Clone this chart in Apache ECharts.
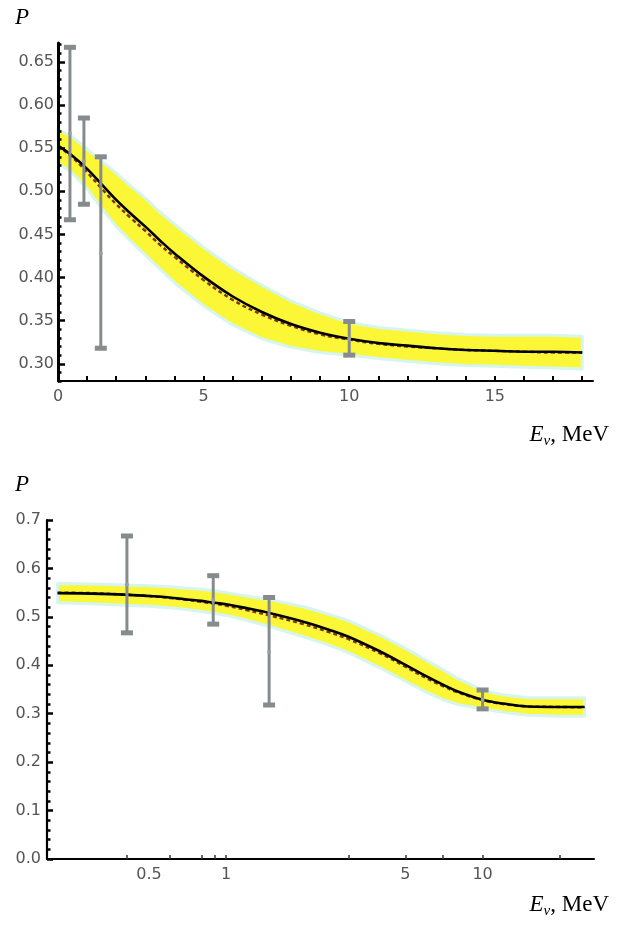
<!DOCTYPE html>
<html><head><meta charset="utf-8">
<script src="https://cdn.jsdelivr.net/npm/echarts@6/dist/echarts.min.js"></script>
<style>html,body{margin:0;padding:0;background:#fff}#c{width:617px;height:928px}</style>
</head><body><div id="c"></div>
<script>
// ---------- top panel (linear energy axis) ----------
const topE  = [0, 0.5, 1, 1.5, 2, 2.5, 3, 3.5, 4, 5, 6, 7, 8, 9, 10, 11, 12, 13, 14, 15, 16, 17, 18];
const topP  = [0.553,0.541,0.526,0.508,0.490,0.474,0.459,0.443,0.428,0.401,0.378,0.360,0.346,0.336,0.329,0.324,0.321,0.318,0.316,0.315,0.314,0.314,0.313];
const topPd = [0.553,0.539,0.522,0.503,0.485,0.469,0.454,0.438,0.424,0.397,0.374,0.357,0.344,0.334,0.328,0.323,0.320,0.318,0.316,0.315,0.314,0.313,0.313];
const topU  = [0.572,0.563,0.549,0.535,0.521,0.506,0.492,0.476,0.462,0.435,0.411,0.391,0.373,0.359,0.348,0.342,0.339,0.336,0.334,0.333,0.333,0.333,0.332];
const topL  = [0.533,0.521,0.503,0.480,0.459,0.442,0.426,0.410,0.394,0.367,0.345,0.329,0.319,0.313,0.310,0.306,0.303,0.300,0.298,0.297,0.296,0.295,0.294];
const topXLabels = [0, 5, 10, 15];
const topXTicks  = [0,1,2,3,4,5,6,7,8,9,10,11,12,13,14,15,16,17,18];
const topYLabels = [0.30, 0.35, 0.40, 0.45, 0.50, 0.55, 0.60, 0.65];

// ---------- bottom panel (log energy axis) ----------
const botE  = [0.22,0.3,0.4,0.5,0.6,0.7,0.8,0.9,1,1.2,1.5,2,2.5,3,4,5,6,7,8,10,12,15,20,25];
const botP  = [0.549,0.548,0.546,0.543,0.540,0.536,0.533,0.529,0.526,0.518,0.507,0.490,0.474,0.459,0.428,0.401,0.378,0.360,0.346,0.329,0.321,0.315,0.314,0.314];
const botPd = [0.550,0.549,0.546,0.543,0.539,0.535,0.531,0.527,0.523,0.514,0.502,0.485,0.469,0.454,0.424,0.397,0.374,0.357,0.344,0.328,0.320,0.315,0.314,0.313];
const botU  = [0.569,0.568,0.566,0.564,0.562,0.559,0.557,0.554,0.550,0.543,0.535,0.521,0.506,0.492,0.462,0.435,0.411,0.391,0.373,0.348,0.339,0.333,0.333,0.333];
const botL  = [0.529,0.527,0.524,0.522,0.519,0.515,0.511,0.507,0.503,0.493,0.479,0.459,0.442,0.426,0.394,0.367,0.345,0.329,0.319,0.310,0.303,0.297,0.295,0.295];
const botXLabels = [0.5, 1, 5, 10];
const botXTicks  = [0.41, 0.6, 0.8, 0.9, 1, 3, 5, 7, 10, 20];

// ---------- measurements (error bars), shared ----------
const barE  = [0.41, 0.89, 1.47, 10];
const barP  = [0.567, 0.535, 0.428, 0.329];
const barLo = [0.467, 0.485, 0.318, 0.310];
const barHi = [0.667, 0.585, 0.540, 0.349];

// minor ticks of top y axis (every 0.01)
const topYMinor = [];
for (let k = 28; k <= 67; k++) topYMinor.push(k / 100);

const TICKFONT = '"DejaVu Sans", Arial, sans-serif';
const LABEL = {color:'#555', fontSize:16, fontFamily:TICKFONT};

function band(xi, yi, E, U, L) {
  return {
    type:'custom', xAxisIndex:xi, yAxisIndex:yi, z:1, silent:true,
    data:[[E[0], U[0]]],
    renderItem:(params, api) => {
      const pts = [];
      for (let i = 0; i < E.length; i++) pts.push(api.coord([E[i], U[i]]));
      for (let i = E.length - 1; i >= 0; i--) pts.push(api.coord([E[i], L[i]]));
      return {type:'polygon', shape:{points:pts},
        style:{fill:'#fbf736', stroke:'#d6f5ef', lineWidth:3, lineJoin:'round'}};
    }
  };
}
function line(xi, yi, E, P, dashed) {
  return {
    type:'line', xAxisIndex:xi, yAxisIndex:yi, smooth:0.4, showSymbol:false, silent:true,
    z: dashed ? 2 : 3,
    data: E.map((e, i) => [e, P[i]]),
    lineStyle: dashed ? {color:'#7e3514', width:2.4, type:[4,3]} : {color:'#000', width:2.6}
  };
}
function bars(xi, yi) {
  return {
    type:'custom', xAxisIndex:xi, yAxisIndex:yi, z:5, silent:true,
    data: barE.map((e, i) => [e, barLo[i], barHi[i], barP[i]]),
    encode:{x:0, y:[1,2]},
    renderItem:(params, api) => {
      const x = api.value(0);
      const lo = api.coord([x, api.value(1)]);
      const hi = api.coord([x, api.value(2)]);
      const c  = api.coord([x, api.value(3)]);
      const col = '#868b8d';
      return {type:'group', children:[
        {type:'line', shape:{x1:lo[0], y1:lo[1], x2:hi[0], y2:hi[1]}, style:{stroke:col, lineWidth:3}},
        {type:'rect', shape:{x:hi[0]-6, y:hi[1]-2.5, width:12, height:5}, style:{fill:col}},
        {type:'rect', shape:{x:lo[0]-6, y:lo[1]-2.5, width:12, height:5}, style:{fill:col}},
        {type:'circle', shape:{cx:c[0], cy:c[1], r:2}, style:{fill:'#9aa0a2'}}
      ]};
    }
  };
}

const rich = {
  i:{fontFamily:'"Liberation Serif", serif', fontStyle:'italic', fontSize:23, lineHeight:28, fill:'#000'},
  s:{fontFamily:'"Liberation Serif", serif', fontStyle:'italic', fontSize:15, lineHeight:15, verticalAlign:'bottom', fill:'#000'},
  r:{fontFamily:'"Liberation Serif", serif', fontSize:23, lineHeight:28, fill:'#000'}
};

const chart = echarts.init(document.getElementById('c'), null, {renderer:'canvas'});
chart.setOption({
  backgroundColor:'#fff',
  animation:false,
  grid:[
    {left:58, right:24, top:43, bottom:547, containLabel:false, outerBoundsMode:'none'},
    {left:47, right:23, top:520, bottom:69, containLabel:false, outerBoundsMode:'none'}
  ],
  xAxis:[
    {type:'value', gridIndex:0, min:0, max:18.37, z:10,
     axisLine:{onZero:false, lineStyle:{color:'#000', width:2}},
     axisTick:{inside:true, length:5, customValues:topXTicks, lineStyle:{color:'#000', width:2}},
     axisLabel:Object.assign({customValues:topXLabels, margin:8}, LABEL),
     splitLine:{show:false}},
    {type:'log', gridIndex:1, min:0.2, max:27.2, logBase:10, z:10,
     axisLine:{onZero:false, lineStyle:{color:'#000', width:2}},
     axisTick:{inside:true, length:4, customValues:botXTicks, lineStyle:{color:'#333', width:1.5}},
     axisLabel:Object.assign({customValues:botXLabels, margin:8,
       formatter:v => String(Math.round(v * 10) / 10)}, LABEL),
     splitLine:{show:false}, minorTick:{show:false}}
  ],
  yAxis:[
    {type:'value', gridIndex:0, min:0.28, max:0.672, z:10,
     axisLine:{onZero:false, lineStyle:{color:'#000', width:3}},
     axisTick:{inside:true, length:7, customValues:topYLabels, lineStyle:{color:'#000', width:2.5}},
     axisLabel:Object.assign({customValues:topYLabels, margin:4, formatter:v => v.toFixed(2)}, LABEL),
     splitLine:{show:false}},
    {type:'value', gridIndex:0, min:0.28, max:0.672, z:10, position:'left',
     axisLine:{show:false, onZero:false},
     axisTick:{inside:true, length:3.5, customValues:topYMinor, lineStyle:{color:'#000', width:2.5}},
     axisLabel:{show:false}, splitLine:{show:false}},
    {type:'value', gridIndex:1, min:0, max:0.7, interval:0.1, z:10,
     axisLine:{onZero:false, lineStyle:{color:'#000', width:2.2}},
     axisTick:{inside:true, length:6, lineStyle:{color:'#000', width:2.5}},
     minorTick:{show:true, splitNumber:5, length:3.5, lineStyle:{color:'#000', width:2.5}},
     axisLabel:Object.assign({margin:6, formatter:v => v.toFixed(1)}, LABEL),
     splitLine:{show:false}, minorSplitLine:{show:false}}
  ],
  series:[
    band(0, 0, topE, topU, topL),
    line(0, 0, topE, topPd, true),
    line(0, 0, topE, topP, false),
    bars(0, 0),
    band(1, 2, botE, botU, botL),
    line(1, 2, botE, botPd, true),
    line(1, 2, botE, botP, false),
    bars(1, 2)
  ],
  graphic:[
    {type:'text', x:15, y:6, style:{text:'P', font:'italic 23px "Liberation Serif", serif', fill:'#000'}},
    {type:'text', x:15, y:473, style:{text:'P', font:'italic 23px "Liberation Serif", serif', fill:'#000'}},
    {type:'text', x:609, y:435, style:{text:'{i|E}{s|ν}{r|, MeV}', rich:rich, align:'right', verticalAlign:'middle'}},
    {type:'text', x:609, y:905, style:{text:'{i|E}{s|ν}{r|, MeV}', rich:rich, align:'right', verticalAlign:'middle'}}
  ]
});
</script>
</body></html>
